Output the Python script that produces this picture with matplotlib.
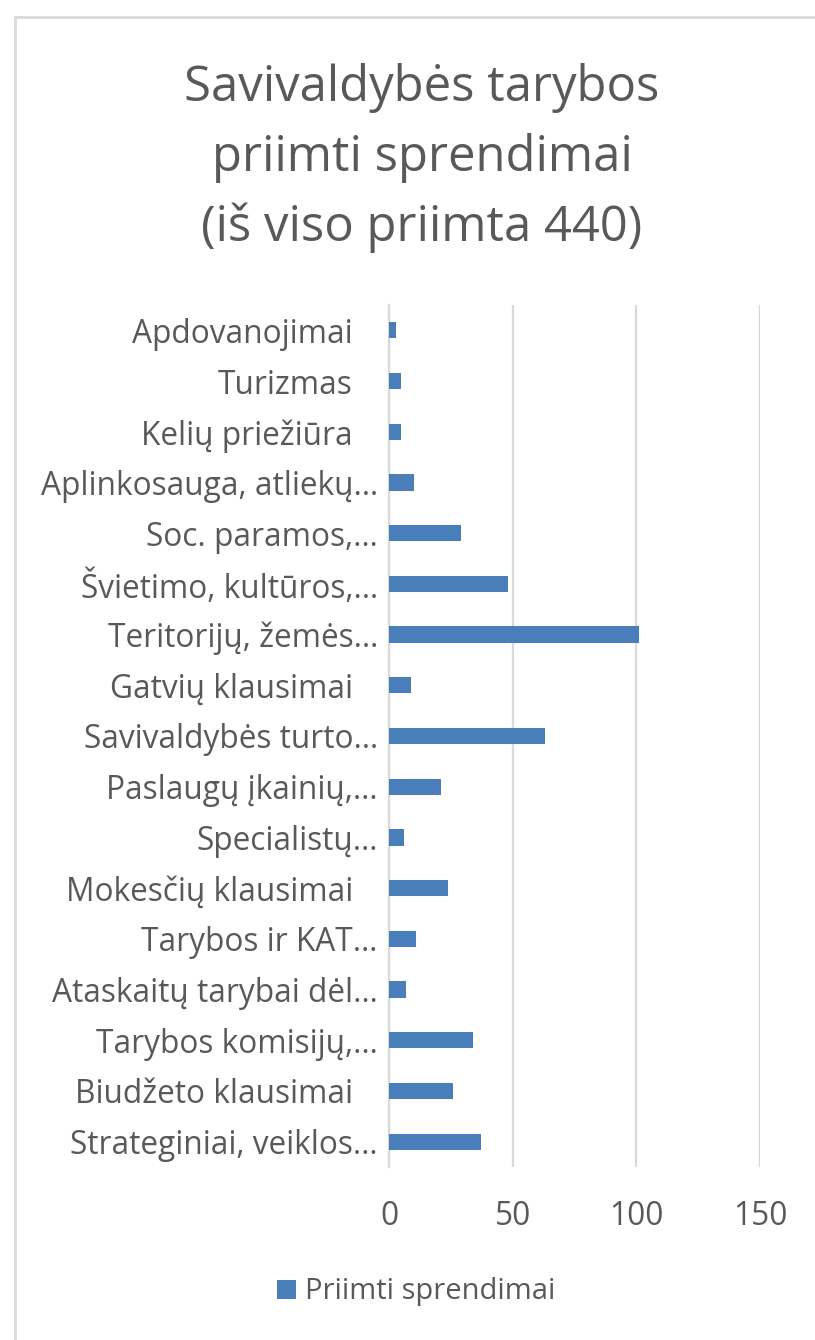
import matplotlib.pyplot as plt
from matplotlib.patches import Rectangle
from matplotlib.transforms import ScaledTranslation

plt.rcParams['font.family'] = ['Open Sans', 'DejaVu Sans']

kategorijos = [
    'Strateginiai, veiklos…', 'Biudžeto klausimai', 'Tarybos komisijų,…',
    'Ataskaitų tarybai dėl…', 'Tarybos ir KAT…', 'Mokesčių klausimai',
    'Specialistų…', 'Paslaugų įkainių,…', 'Savivaldybės turto…',
    'Gatvių klausimai', 'Teritorijų, žemės…', 'Švietimo, kultūros,…',
    'Soc. paramos,…', 'Aplinkosauga, atliekų…', 'Kelių priežiūra',
    'Turizmas', 'Apdovanojimai',
]
sprendimai = [37, 26, 34, 7, 11, 24, 6, 21, 63, 9, 101, 48, 29, 10, 5, 5, 3]
x_ticks = [0, 50, 100, 150]

pilka = '#595959'
melyna = '#4A7EBB'

fig = plt.figure(figsize=(8.15, 13.4), dpi=100)
fig.patches.append(Rectangle((15 / 815, -0.1), 1.2, 1.1 - 17 / 1340,
                             transform=fig.transFigure, fill=False,
                             edgecolor='#d9d9d9', linewidth=2))

ax = fig.add_axes([389 / 815, 173 / 1340, 371 / 815, 862 / 1340])
ax.barh(range(len(kategorijos)), sprendimai, height=0.32, color=melyna,
        label='Priimti sprendimai', zorder=3)

ax.set_xlim(0, 150)
ax.set_ylim(-0.5, len(kategorijos) - 0.5)
ax.set_xticks(x_ticks)
ax.set_yticks(range(len(kategorijos)))
ax.set_yticklabels(kategorijos)
ax.xaxis.grid(True, color='#d9d9d9', linewidth=1.6, zorder=0)
ax.tick_params(axis='both', length=0, labelsize=22.8, colors=pilka)
ax.tick_params(axis='x', pad=24)
ax.tick_params(axis='y', pad=8)
for s in ['top', 'right', 'bottom']:
    ax.spines[s].set_visible(False)
ax.spines['left'].set_color('#d9d9d9')
ax.spines['left'].set_linewidth(1.6)

# pilni pavadinimai Excel'yje stovi toliau nuo ašies
for lbl in ax.get_yticklabels():
    if not lbl.get_text().endswith('…'):
        lbl.set_transform(lbl.get_transform() +
                          ScaledTranslation(-0.25, 0, fig.dpi_scale_trans))

pavadinimas = ['Savivaldybės tarybos', 'priimti sprendimai',
               '(iš viso priimta 440)']
for i, eil in enumerate(pavadinimas):
    fig.text(422 / 815, 1 - (88 + 70 * i) / 1340, eil, ha='center',
             va='center', fontsize=35.3, color=pilka)

fig.legend(loc='center', bbox_to_anchor=(416 / 815, 1 - 1292 / 1340),
           frameon=False, fontsize=21, labelcolor=pilka, handlelength=0.65,
           handleheight=0.65, handletextpad=0.3)

plt.savefig('out.png', dpi=100)
